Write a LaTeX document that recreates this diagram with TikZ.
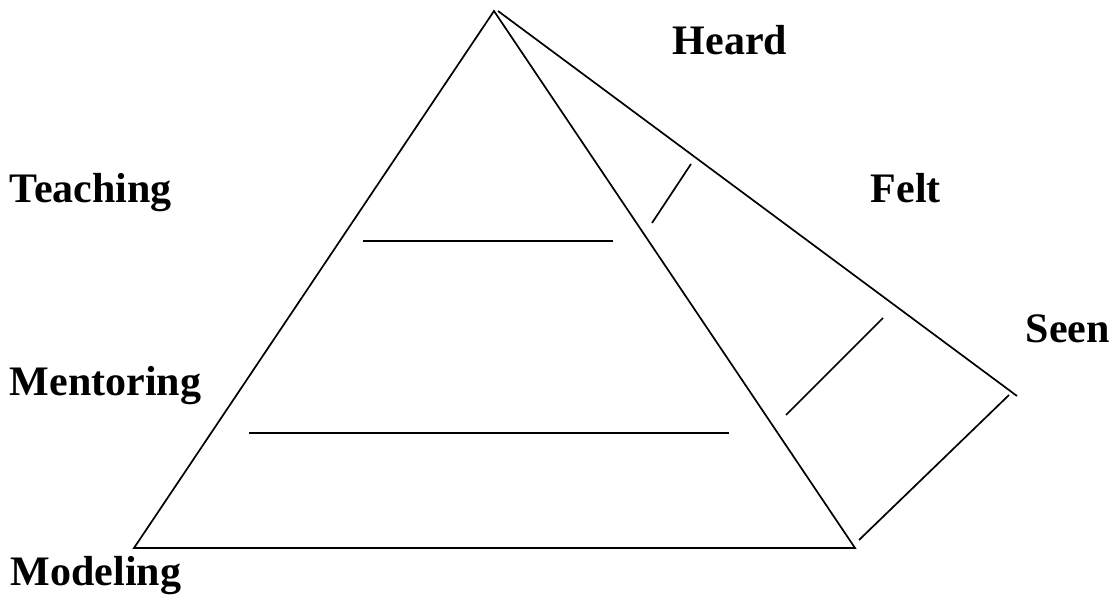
\documentclass[tikz,border=0pt]{standalone}
\usepackage{fontspec}
\setmainfont{Liberation Serif}
\usepackage{tikz}

\tikzset{lbl/.style={anchor=base west, inner sep=0pt, font=\fontsize{42}{50}\selectfont\bfseries}}

\begin{document}
\begin{tikzpicture}[x=1pt, y=-1pt, line width=1.7pt]

\useasboundingbox (0,0) rectangle (1110,604);

\coordinate (apex) at (494,11);
\coordinate (left) at (134,548);
\coordinate (right) at (855,548);
\draw (left) -- (apex) -- (right) -- cycle;
\draw (498,11) -- (1017,396);
\draw (1009,395) -- (859,540);
\draw (363,241) -- (613,241);
\draw (249,433) -- (729,433);
\draw (691,164) -- (652,223);
\draw (883,318) -- (786,415);

\node[lbl] (heard) at (672,55) {Heard};
\node[lbl] (teaching) at (9,203) {Teaching};
\node[lbl] (felt) at (870,203) {Felt};
\node[lbl] (seen) at (1025,342) {Seen};
\node[lbl] (mentoring) at (9,395) {Mentoring};
\node[lbl] (modeling) at (10,585) {Modeling};

\end{tikzpicture}
\end{document}
